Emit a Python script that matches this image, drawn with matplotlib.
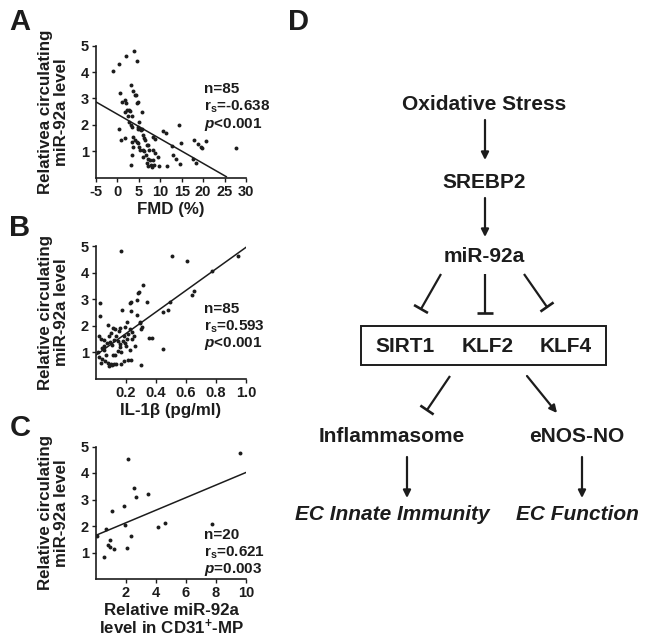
import numpy as np
import matplotlib.pyplot as plt

# fonts: Arial-like bold everywhere
plt.rcParams['font.family'] = ['Liberation Sans', 'DejaVu Sans']
plt.rcParams['font.weight'] = 'bold'
plt.rcParams['axes.labelweight'] = 'bold'
plt.rcParams['axes.unicode_minus'] = False
plt.rcParams['mathtext.fontset'] = 'custom'
plt.rcParams['mathtext.rm'] = 'Liberation Sans:bold'
plt.rcParams['mathtext.bf'] = 'Liberation Sans:bold'
plt.rcParams['mathtext.it'] = 'Liberation Sans:italic:bold'

INK = '#1c1c1c'

# ---- panel A : FMD vs circulating miR-92a
fmd = [-1.10, 0.38, 1.93, 3.80, 4.66, 3.26, 3.72, 4.04, 4.43, 0.61,
       1.15, 1.86, 2.01, 4.50, 4.89, 5.83, 1.78, 2.32, 2.79, 2.87,
       2.48, 3.34, 2.79, 3.18, 3.49, 4.97, 4.74, 4.89, 5.28, 5.44,
       5.67, 0.45, 0.84, 1.86, 3.72, 4.04, 3.41, 3.57, 3.41, 3.10,
       4.58, 4.89, 5.13, 6.06, 6.22, 6.53, 5.28, 5.91, 6.29, 6.84,
       7.23, 7.46, 6.06, 6.61, 7.23, 7.62, 8.40, 8.79, 8.40, 8.71,
       9.41, 8.24, 8.55, 6.84, 7.23, 7.85, 8.09, 9.80, 11.67, 10.73,
       11.43, 14.32, 12.76, 12.91, 13.69, 14.78, 14.63, 17.98, 18.76, 19.46,
       19.77, 20.78, 17.74, 18.29, 27.63]
mir_a = [4.04, 4.32, 4.62, 4.80, 4.42, 3.50, 3.28, 3.13, 3.13, 3.22,
         2.88, 2.93, 2.82, 2.82, 2.87, 2.49, 2.50, 2.58, 2.58, 2.53,
         2.33, 2.34, 2.11, 1.99, 1.94, 2.10, 1.91, 1.84, 1.86, 1.81,
         1.84, 1.85, 1.43, 1.50, 1.54, 1.43, 1.35, 1.16, 0.86, 0.49,
         1.37, 1.31, 1.18, 1.62, 1.50, 1.43, 1.06, 1.06, 1.03, 1.25,
         1.23, 1.06, 0.81, 0.87, 0.71, 0.68, 1.56, 1.47, 1.06, 0.93,
         0.81, 0.68, 0.49, 0.55, 0.45, 0.49, 0.43, 0.47, 0.47, 1.77,
         1.69, 2.00, 1.21, 0.88, 0.73, 1.33, 0.53, 1.43, 1.28, 1.18,
         1.15, 1.40, 0.70, 0.58, 1.15]
fit_a_x = [-5, 25.4]
fit_a_y = [2.87, 0.05]
stats_a = ['n=85', r'$\mathrm{r_s}$=-0.638', r'$p$<0.001']

# ---- panel B : IL-1b vs circulating miR-92a
il1b = [0.167, 0.507, 0.605, 0.773, 0.945, 0.316, 0.289, 0.278, 0.271, 0.231,
        0.225, 0.340, 0.025, 0.027, 0.171, 0.234, 0.273, 0.207, 0.291, 0.296,
        0.305, 0.298, 0.445, 0.482, 0.491, 0.640, 0.651, 0.351, 0.374, 0.445,
        0.300, 0.020, 0.034, 0.056, 0.082, 0.111, 0.127, 0.154, 0.162, 0.087,
        0.074, 0.096, 0.107, 0.122, 0.145, 0.158, 0.180, 0.191, 0.207, 0.227,
        0.238, 0.242, 0.056, 0.038, 0.056, 0.022, 0.038, 0.062, 0.034, 0.078,
        0.089, 0.100, 0.109, 0.118, 0.134, 0.167, 0.189, 0.211, 0.234, 0.113,
        0.127, 0.145, 0.167, 0.160, 0.200, 0.067, 0.011, 0.211, 0.251, 0.185,
        0.136, 0.262, 0.225, 0.100, 0.190]
mir_b = [4.82, 4.63, 4.43, 4.06, 4.63, 3.52, 3.26, 3.22, 2.97, 2.89,
         2.85, 2.90, 2.84, 2.36, 2.61, 2.56, 2.40, 2.15, 2.16, 2.09,
         1.95, 1.87, 2.52, 2.61, 2.91, 3.16, 3.32, 1.56, 1.54, 1.13,
         0.53, 1.60, 1.50, 1.45, 2.02, 1.91, 1.87, 1.80, 1.90, 1.63,
         1.34, 1.39, 1.26, 1.45, 1.41, 1.31, 1.44, 1.35, 1.49, 1.87,
         1.76, 1.52, 1.23, 1.15, 1.09, 0.83, 0.75, 0.68, 0.60, 0.60,
         0.50, 0.56, 0.53, 0.58, 0.55, 0.58, 0.68, 0.70, 0.73, 0.91,
         0.91, 1.07, 1.03, 1.20, 1.25, 0.91, 1.03, 1.69, 1.60, 1.60,
         1.63, 1.23, 1.10, 1.73, 1.95]
fit_b_x = [0.0, 1.0]
fit_b_y = [0.90, 4.95]
stats_b = ['n=85', r'$\mathrm{r_s}$=0.593', r'$p$<0.001']

# ---- panel C : CD31+ MP miR-92a vs circulating miR-92a
mp_mir = [9.62, 2.11, 2.56, 2.67, 3.44, 1.84, 1.07, 4.11, 4.62, 7.76,
          1.93, 0.64, 0.04, 2.36, 0.93, 0.82, 0.96, 1.22, 2.09, 0.56]
mir_c = [4.75, 4.53, 3.42, 3.08, 3.20, 2.77, 2.56, 1.96, 2.12, 2.07,
         2.03, 1.87, 1.64, 1.61, 1.49, 1.30, 1.21, 1.15, 1.17, 0.84]
fit_c_x = [0.0, 10.0]
fit_c_y = [1.65, 4.02]
stats_c = ['n=20', r'$\mathrm{r_s}$=0.621', r'$p$=0.003']

W, H = 649, 643
fig = plt.figure(figsize=(W / 100, H / 100), dpi=100)


def px_box(left, top, right, bottom):
    # pixel box -> figure fraction rect
    return [left / W, 1 - bottom / H, (right - left) / W, (bottom - top) / H]


def scatter_panel(rect, x, y, fx, fy, xlim, xticks, xlabel, ylabel, stats, stat_y):
    ax = fig.add_axes(rect)
    ax.scatter(x, y, s=8, color=INK, linewidths=0, zorder=3)
    ax.plot(fx, fy, color=INK, lw=1.1, zorder=2)
    ax.set_xlim(xlim)
    ax.set_ylim(0, 5)
    ax.set_xticks(xticks)
    ax.set_yticks([1, 2, 3, 4, 5])
    for s in ['top', 'right']:
        ax.spines[s].set_visible(False)
    for s in ['left', 'bottom']:
        ax.spines[s].set_linewidth(1.2)
        ax.spines[s].set_color(INK)
    ax.tick_params(direction='out', length=3, width=1.0, labelsize=10.5,
                   colors=INK, pad=2)
    ax.set_xlabel(xlabel, fontsize=12.2, color=INK, labelpad=2, linespacing=1.0)
    ax.set_ylabel(ylabel, fontsize=12.2, color=INK, linespacing=1.05)
    ax.yaxis.set_label_coords(-0.18, 0.5)
    for txt, yy in zip(stats, stat_y):
        ax.text(0.72, yy, txt, transform=ax.transAxes, fontsize=11,
                color=INK, va='center', ha='left')
    return ax


scatter_panel(px_box(96, 45.5, 246, 178), fmd, mir_a, fit_a_x, fit_a_y,
              (-5, 30), [-5, 0, 5, 10, 15, 20, 25, 30], 'FMD (%)',
              'Relativea circulating\nmiR-92a level', stats_a, [0.675, 0.538, 0.405])
scatter_panel(px_box(96, 246, 246, 379), il1b, mir_b, fit_b_x, fit_b_y,
              (0, 1.0), [0.2, 0.4, 0.6, 0.8, 1.0], 'IL-1β (pg/ml)',
              'Relative circulating\nmiR-92a level', stats_b, [0.525, 0.394, 0.268])
scatter_panel(px_box(96, 446.5, 246, 579), mp_mir, mir_c, fit_c_x, fit_c_y,
              (0, 10), [2, 4, 6, 8, 10], 'Relative miR-92a\nlevel in CD31$^{+}$-MP',
              'Relative circulating\nmiR-92a level', stats_c, [0.335, 0.198, 0.075])

# panel letters
for letter, (lx, ly) in zip('ABCD', [(20, 22), (20, 228), (20, 428), (298, 22)]):
    fig.text(lx / W, 1 - ly / H, letter, fontsize=21, fontweight='bold',
             color=INK, ha='center', va='center')

# ---- panel D : pathway diagram (pixel coordinates)
axd = fig.add_axes(px_box(280, 0, 649, 643))
axd.set_xlim(280, 649)
axd.set_ylim(643, 0)
axd.axis('off')

node_text = ['Oxidative Stress', 'SREBP2', 'miR-92a', 'SIRT1', 'KLF2', 'KLF4',
             'Inflammasome', 'eNOS-NO', 'EC Innate Immunity', 'EC Function']
node_x = [484, 484, 484, 405, 488, 566, 392, 577, 392, 577]
node_y = [104, 182, 257, 347, 347, 347, 436, 436, 515, 515]
node_style = ['normal'] * 8 + ['italic'] * 2
for t, x, y, st in zip(node_text, node_x, node_y, node_style):
    axd.text(x, y, t, fontsize=15, fontweight='bold', fontstyle=st,
             color=INK, ha='center', va='center')

# box around SIRT1/KLF2/KLF4
axd.add_patch(plt.Rectangle((361, 325.5), 245, 39.5, fill=False,
                            lw=1.4, edgecolor=INK))

# activating arrows: (x0, y0, x1, y1)
arrows = [(485, 120, 485, 160), (485, 198, 485, 237),
          (527, 376, 557, 413), (407, 457, 407, 498), (582, 457, 582, 498)]
for x0, y0, x1, y1 in arrows:
    axd.annotate('', xy=(x1, y1), xytext=(x0, y0),
                 arrowprops=dict(arrowstyle='-|>', lw=1.6, color=INK,
                                 mutation_scale=11, shrinkA=0, shrinkB=0))

# inhibitory lines with flat bar at the end
inhibits = [(441, 274, 421, 309), (485, 274, 485, 313), (524, 274, 547, 307),
            (450, 376, 427, 410)]
bar_half = 8
for x0, y0, x1, y1 in inhibits:
    axd.plot([x0, x1], [y0, y1], color=INK, lw=1.6, solid_capstyle='butt')
    d = np.array([x1 - x0, y1 - y0], dtype=float)
    d /= np.hypot(*d)
    perp = np.array([-d[1], d[0]]) * bar_half
    axd.plot([x1 - perp[0], x1 + perp[0]], [y1 - perp[1], y1 + perp[1]],
             color=INK, lw=1.9, solid_capstyle='butt')

fig.savefig('out.png', dpi=100)
